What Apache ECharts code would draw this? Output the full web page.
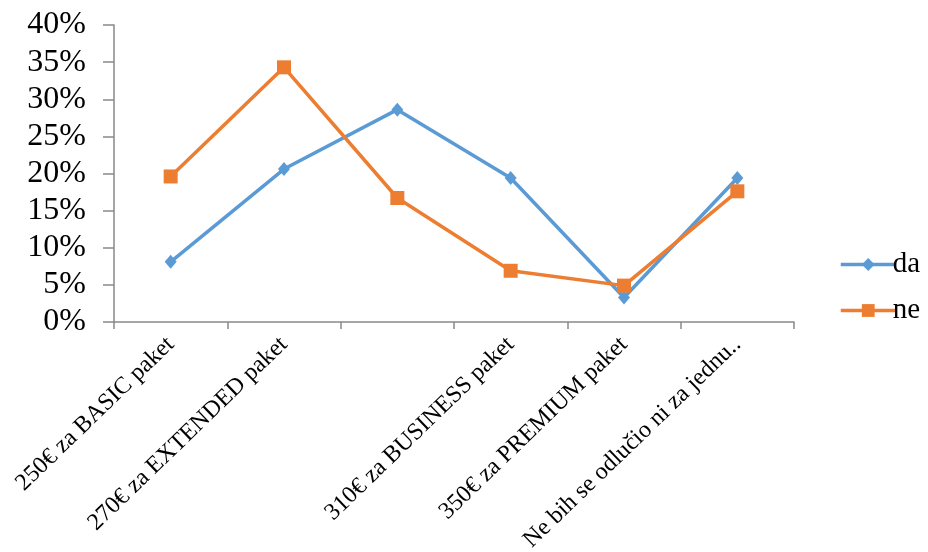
<!DOCTYPE html>
<html>
<head>
<meta charset="utf-8">
<script src="https://cdn.jsdelivr.net/npm/echarts@6/dist/echarts.min.js"></script>
<style>
html,body{margin:0;padding:0;background:#fff;}
#chart{width:928px;height:552px;}
</style>
</head>
<body>
<div id="chart"></div>
<script>
var categories = ['250€ za BASIC paket', '270€ za EXTENDED paket', '', '310€ za BUSINESS paket', '350€ za PREMIUM paket', 'Ne bih se odlučio ni za jednu..'];
var daValues = [8.1, 20.6, 28.6, 19.4, 3.3, 19.4];
var neValues = [19.6, 34.3, 16.7, 6.9, 4.9, 17.6];
var seriesNames = ['da', 'ne'];

var FONT = '"Liberation Serif", "Times New Roman", serif';
var chart = echarts.init(document.getElementById('chart'));
chart.setOption({
  backgroundColor: '#ffffff',
  animation: false,
  grid: { left: 114, right: 134, top: 25, bottom: 230, containLabel: false, outerBoundsMode: 'none' },
  legend: {
    orient: 'vertical',
    left: 834,
    top: 245,
    itemWidth: 55,
    itemHeight: 16,
    itemGap: 17,
    lineStyle: { width: 3.5 },
    textStyle: { fontFamily: FONT, fontSize: 29, color: '#000', padding: [0,0,0,-8] },
    data: seriesNames
  },
  xAxis: {
    type: 'category',
    data: categories,
    boundaryGap: true,
    axisLine: { lineStyle: { color: '#898989', width: 1.5 } },
    axisTick: { show: true, length: 7, lineStyle: { color: '#898989', width: 1.5 } },
    axisLabel: {
      interval: 0,
      rotate: 44,
      margin: 19,
      fontFamily: FONT,
      fontSize: 24,
      color: '#000'
    },
    splitLine: { show: false }
  },
  yAxis: {
    type: 'value',
    min: 0,
    max: 40,
    interval: 5,
    axisLine: { show: true, lineStyle: { color: '#898989', width: 1.5 } },
    axisTick: { show: true, length: 11, lineStyle: { color: '#898989', width: 1.5 } },
    axisLabel: {
      formatter: '{value}%',
      margin: 28,
      fontFamily: FONT,
      fontSize: 32,
      color: '#000'
    },
    splitLine: { show: false }
  },
  series: [
    {
      name: seriesNames[0],
      type: 'line',
      data: daValues,
      symbol: 'diamond',
      symbolSize: [12, 14],
      lineStyle: { color: '#5B9BD5', width: 3.5 },
      itemStyle: { color: '#5B9BD5' },
      z: 2
    },
    {
      name: seriesNames[1],
      type: 'line',
      data: neValues,
      symbol: 'rect',
      symbolSize: 14,
      lineStyle: { color: '#ED7D31', width: 3.5 },
      itemStyle: { color: '#ED7D31' },
      z: 3
    }
  ]
});
</script>
</body>
</html>
